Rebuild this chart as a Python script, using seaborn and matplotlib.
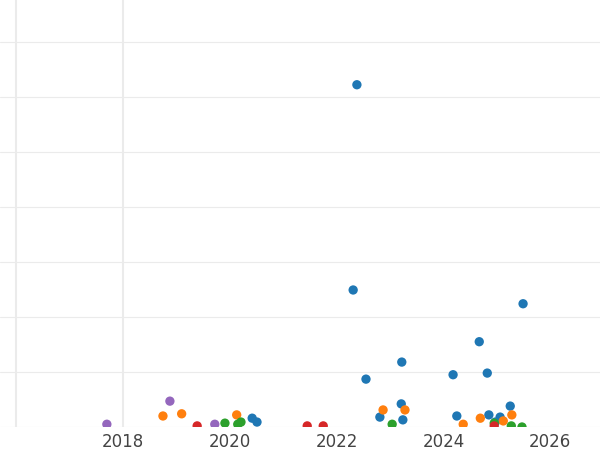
import seaborn as sns
import matplotlib.pyplot as plt
import pandas as pd

blue_x = [2022.38, 2022.31, 2025.49, 2024.67, 2023.22, 2022.55, 2024.18, 2024.82, 2023.21,
          2025.25, 2022.81, 2023.24, 2024.25, 2024.85, 2025.06, 2020.42, 2020.51, 2024.97]
blue_y = [6.22, 2.49, 2.24, 1.55, 1.18, 0.87, 0.95, 0.98, 0.42,
          0.38, 0.18, 0.13, 0.20, 0.22, 0.18, 0.16, 0.09, 0.09]
orange_x = [2018.75, 2019.10, 2020.13, 2022.87, 2023.28, 2024.37, 2024.69, 2025.28, 2025.12]
orange_y = [0.20, 0.24, 0.22, 0.31, 0.31, 0.05, 0.16, 0.22, 0.11]
green_x = [2019.91, 2020.15, 2020.21, 2023.04, 2024.95, 2025.27, 2025.47]
green_y = [0.07, 0.05, 0.09, 0.05, 0.07, 0.02, 0.0]
red_x = [2019.39, 2021.45, 2021.75, 2024.95]
red_y = [0.02, 0.02, 0.02, 0.02]
purple_x = [2017.70, 2018.88, 2019.72]
purple_y = [0.05, 0.47, 0.05]


def main():
    groups = [("a", blue_x, blue_y), ("b", orange_x, orange_y), ("c", green_x, green_y),
              ("d", red_x, red_y), ("e", purple_x, purple_y)]
    rows = []
    for name, xs, ys in groups:
        rows += [(name, x, y) for x, y in zip(xs, ys)]
    df = pd.DataFrame(rows, columns=["group", "year", "value"])

    sns.set_style("whitegrid")
    fig = plt.figure(figsize=(6, 4.5), dpi=100)
    ax = fig.add_axes([0, 450 / 450 - 427 / 450 + 0.0, 1, 427 / 450])
    palette = ["#1f77b4", "#ff7f0e", "#2ca02c", "#d62728", "#9467bd"]
    sns.scatterplot(data=df, x="year", y="value", hue="group", palette=palette,
                    s=45, edgecolor="none", legend=False, ax=ax, zorder=3)
    ax.set_xlim(2015.70, 2026.93)
    ax.set_ylim(0, 7.76)
    ax.set_xticks([2018, 2020, 2022, 2024, 2026])
    ax.set_yticks(range(0, 8))
    ax.set_yticklabels([])
    ax.grid(axis="x", visible=False)
    ax.grid(axis="y", color="#ebebeb", linewidth=0.8)
    for x in [2016, 2018]:
        ax.axvline(x, color="#ebebeb", linewidth=1.5, zorder=0)
    for s in ax.spines.values():
        s.set_visible(False)
    ax.tick_params(axis="x", labelsize=12, labelcolor="#444444", length=0, pad=4)
    ax.tick_params(axis="y", length=0)
    ax.set_xlabel("")
    ax.set_ylabel("")
    fig.savefig("out.png")


if __name__ == '__main__':
    main()
